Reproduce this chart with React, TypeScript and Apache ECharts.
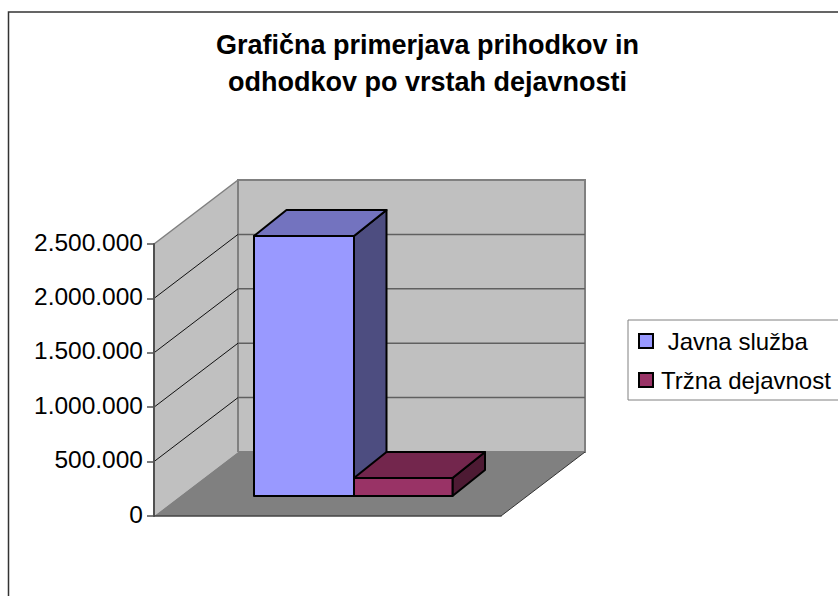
import React, { useEffect, useRef } from "react";
import * as echarts from "echarts";

const titleText = "Grafična primerjava prihodkov in\nodhodkov po vrstah dejavnosti";
const categories = ["Javna služba", "Tržna dejavnost"];
const seriesValues = [2390000, 165000];
const yTicks = [0, 500000, 1000000, 1500000, 2000000, 2500000];
const frontColors = ["#9999FF", "#993366"];
const topColors = ["#7373BF", "#73264D"];
const sideColors = ["#4D4D80", "#4D1A33"];

const FONT = "'Liberation Sans', Arial, sans-serif";
const WALL_DX = 84;
const WALL_DY = -64;
const BAR_DX = 32.5;
const BAR_DY = -26;
const BASE_DX = 100;
const BASE_DY = -20;
const BAR_W = [100, 98.5];

const fmt = (v: number) => String(v).replace(/\B(?=(\d{3})+(?!\d))/g, ".");

function renderWalls(params: any, api: any) {
  if (params.dataIndex !== 0) return { type: "group", children: [] };
  const cs = params.coordSys;
  const left = cs.x;
  const right = cs.x + cs.width;
  const top = cs.y;
  const bottom = cs.y + cs.height;
  const bl = left + WALL_DX;
  const br = right + WALL_DX;
  const bt = top + WALL_DY;
  const bb = bottom + WALL_DY;
  const wallStyle = { fill: "#C0C0C0", stroke: "none" };
  const children: any[] = [
    { type: "rect", shape: { x: bl, y: bt, width: br - bl, height: bb - bt }, style: wallStyle },
    { type: "polygon", shape: { points: [[left, top], [bl, bt], [bl, bb], [left, bottom]] }, style: wallStyle },
    { type: "polygon", shape: { points: [[left, bottom], [bl, bb], [br, bb], [right, bottom]] }, style: { fill: "#808080", stroke: "none" } },
    { type: "line", shape: { x1: left, y1: top, x2: bl, y2: bt }, style: { stroke: "#808080", lineWidth: 1.5 } },
    { type: "polyline", shape: { points: [[bl, bb], [bl, bt], [br, bt], [br, bb], [bl, bb]] }, style: { fill: "none", stroke: "#808080", lineWidth: 2 } },
    { type: "line", shape: { x1: right, y1: bottom, x2: br, y2: bb }, style: { stroke: "#333333", lineWidth: 1 } },
  ];
  yTicks.slice(1, -1).forEach((t) => {
    const y = api.coord([0, t])[1];
    children.push({ type: "line", shape: { x1: left, y1: y, x2: bl, y2: y + WALL_DY }, style: { stroke: "#111111", lineWidth: 1 } });
    children.push({ type: "line", shape: { x1: bl, y1: y + WALL_DY, x2: br, y2: y + WALL_DY }, style: { stroke: "#606060", lineWidth: 1.5 } });
  });
  return { type: "group", children };
}

function renderBar(params: any, api: any) {
  const i = params.seriesIndex - 1;
  const base = api.coord([0, 0]);
  const tip = api.coord([0, api.value(1)]);
  const cs = params.coordSys;
  const x0 = cs.x + BASE_DX + (i > 0 ? BAR_W[0] : 0);
  const x1 = x0 + BAR_W[i];
  const yBase = base[1] + BASE_DY;
  const yTop = tip[1] + BASE_DY;
  const stroke = { stroke: "#000000", lineWidth: 2, lineJoin: "round" };
  return {
    type: "group",
    children: [
      { type: "polygon", shape: { points: [[x1, yTop], [x1 + BAR_DX, yTop + BAR_DY], [x1 + BAR_DX, yBase + BAR_DY], [x1, yBase]] }, style: { fill: sideColors[i], ...stroke } },
      { type: "polygon", shape: { points: [[x0, yTop], [x0 + BAR_DX, yTop + BAR_DY], [x1 + BAR_DX, yTop + BAR_DY], [x1, yTop]] }, style: { fill: topColors[i], ...stroke } },
      { type: "rect", shape: { x: x0, y: yTop, width: BAR_W[i], height: yBase - yTop }, style: { fill: frontColors[i], ...stroke } },
    ],
  };
}

export default function App() {
  const ref = useRef<HTMLDivElement>(null);
  useEffect(() => {
    const chart = echarts.init(ref.current!, undefined, { renderer: "svg" });
    chart.setOption({
      animation: false,
      backgroundColor: "#FFFFFF",
      title: {
        text: titleText,
        left: 422.5,
        top: 21,
        textAlign: "center",
        textStyle: { fontFamily: FONT, fontSize: 27, fontWeight: "bold", color: "#000", lineHeight: 37 },
      },
      grid: { left: 154, top: 244, width: 347, height: 272, containLabel: false },
      xAxis: {
        type: "category",
        data: [""],
        z: 10,
        axisLine: { show: true, lineStyle: { color: "#444444", width: 1.5 } },
        axisTick: { show: false },
        axisLabel: { show: false },
        splitLine: { show: false },
      },
      yAxis: {
        type: "value",
        min: 0,
        max: 2500000,
        interval: 500000,
        z: 10,
        axisLine: { show: true, lineStyle: { color: "#505050", width: 2 } },
        axisTick: { show: true, length: 7, lineStyle: { color: "#505050", width: 1.5 } },
        axisLabel: {
          color: "#000",
          fontFamily: FONT,
          fontSize: 24.5,
          margin: 11,
          formatter: (v: number) => `{v|${fmt(v)}}`,
          rich: { v: { color: "#000", fontFamily: FONT, fontSize: 24.5, padding: [0, 0, 4, 0] } },
        },
        splitLine: { show: false },
      },
      legend: {
        orient: "vertical",
        left: 628,
        top: 320,
        width: 210,
        padding: [9, 9, 8, 10],
        itemGap: 15,
        itemWidth: 14,
        itemHeight: 14,
        backgroundColor: "#FFFFFF",
        borderColor: "#808080",
        borderWidth: 1,
        data: categories.map((name, i) => ({ name, icon: "rect", itemStyle: { color: frontColors[i], borderColor: "#000", borderWidth: 2 } })),
        formatter: (name: string) => (name === categories[0] ? " " + name : name),
        textStyle: { fontFamily: FONT, fontSize: 24, color: "#000", padding: [0, 0, 0, 3] },
      },
      graphic: [
        { type: "rect", z: -1, shape: { x: 8.5, y: 12, width: 850, height: 600 }, style: { fill: "none", stroke: "#333333", lineWidth: 1.5 } },
      ],
      series: [
        { type: "custom", name: "walls", silent: true, z: 1, coordinateSystem: "cartesian2d", renderItem: renderWalls, data: [[0, 0]] },
        ...categories.map((name, i) => ({
          type: "custom",
          name,
          z: 2 + i,
          coordinateSystem: "cartesian2d",
          renderItem: renderBar,
          itemStyle: { color: frontColors[i] },
          encode: { x: 0, y: 1 },
          data: [[0, seriesValues[i]]],
        })),
      ],
    });
    return () => chart.dispose();
  }, []);
  return <div ref={ref} style={{ position: "absolute", left: 0, top: 0, width: 838, height: 596 }} />;
}
